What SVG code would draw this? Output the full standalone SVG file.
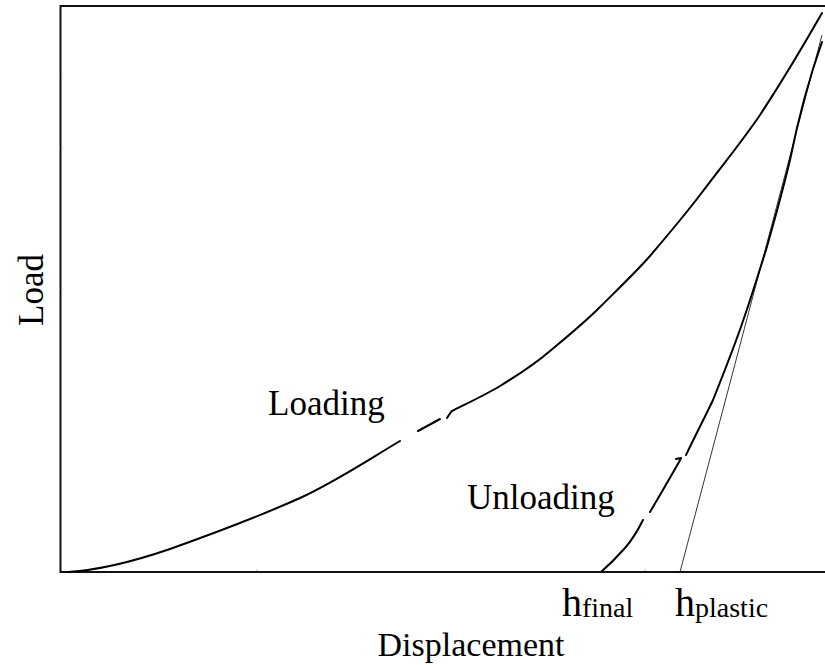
<svg xmlns="http://www.w3.org/2000/svg" width="825" height="665" viewBox="0 0 825 665">
<style>
.axis{fill:none;stroke:#111;stroke-width:2}
.curve{fill:none;stroke:#000;stroke-width:2;stroke-linecap:round;stroke-linejoin:round}
.thin{fill:none;stroke:#000;stroke-width:0.8}
.tick{stroke:#bbb;stroke-width:1}
text{font-family:"Liberation Serif","Times New Roman",serif;fill:#000}
.lbl{font-size:35px}
.xl{font-size:34px}
.big{font-size:40px}
.sub{font-size:28px}
</style>
<rect width="825" height="665" fill="#fff"/>
<g id="axes">
<path class="axis" d="M825,6 H60.5 V572 H825"/>
<path class="tick" d="M61,77 h2 M61,148 h2 M61,289 h2 M257,571 v-2 M645,571 v-2"/>
</g>
<g id="connectors">
<g id="loading-curve">
<path class="curve" d="M68,572 C100,570 135,561 170,549 C215,533 260,516 300,498 C335,482 368,460 400,441"/>
<path class="curve" d="M418,431 L440,419"/>
<path class="curve" d="M447,418 C449,415 450,413 452,411 C468,403 485,395 500,386 C518,375 535,364 550,351 C568,336 584,323 600,307 C617,290 634,274 650,256 C667,236 684,216 700,195 C721,167 741,143 760,115 C781,83 802,48 822,13"/>
</g>
<g id="unloading-curve">
<path class="curve" d="M822,42 C812,70 800,110 790,160 C784,185 776,215 766,250 C758,275 752,295 744,318 C735,345 725,370 713,400 C705,417 698,430 686,455"/>
<path class="curve" d="M676,459 L681,458 L679,462 C670,478 660,495 650,512"/>
<path class="curve" d="M643,520 C638,530 632,540 625,548 C617,557 609,565 601,572"/>
</g>
<path id="tangent" class="thin" d="M680,572 L822,35"/>
</g>
<g id="labels">
<text class="lbl" transform="translate(43,290) rotate(-90)" text-anchor="middle">Load</text>
<text class="xl" x="471" y="656" text-anchor="middle">Displacement</text>
<text class="lbl" x="268" y="415">Loading</text>
<text class="lbl" x="467" y="509">Unloading</text>
<text x="562" y="616"><tspan class="big">h</tspan><tspan class="sub" dy="1">final</tspan></text>
<text x="675" y="616"><tspan class="big">h</tspan><tspan class="sub" dy="1">plastic</tspan></text>
</g>
</svg>
